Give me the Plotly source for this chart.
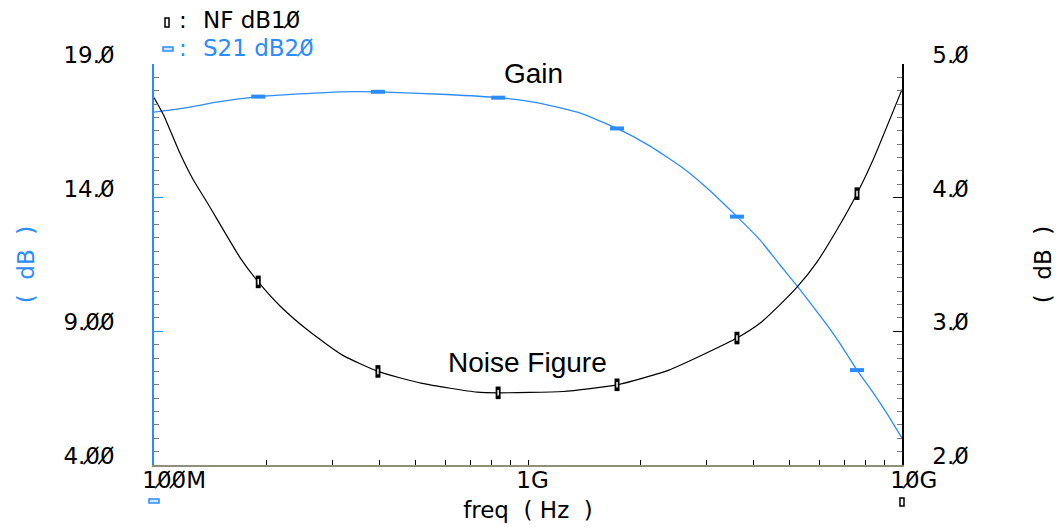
import plotly.graph_objects as go

# ---- data (frequency in Hz, levels in dB) ----
freq_gain = [1.00e8, 1.20e8, 1.47e8, 1.90e8, 3.14e8, 3.97e8, 6.07e8, 8.32e8,
             1.08e9, 1.38e9, 1.73e9, 2.12e9, 2.60e9, 3.01e9, 3.62e9, 4.17e9,
             4.72e9, 5.24e9, 5.67e9, 6.42e9, 6.82e9, 7.58e9, 8.36e9, 9.12e9, 1.00e10]
gain_db = [17.20, 17.35, 17.57, 17.78, 17.96, 17.96, 17.86, 17.74,
           17.53, 17.16, 16.59, 15.93, 15.10, 14.36, 13.29, 12.42,
           11.48, 10.70, 10.08, 9.08, 8.55, 7.55, 6.72, 5.92, 5.00]

freq_nf = [1.00e8, 1.06e8, 1.17e8, 1.27e8, 1.39e8, 1.70e8, 1.90e8, 2.19e8,
           2.60e8, 3.20e8, 3.97e8, 5.21e8, 7.31e8, 8.32e8, 1.24e9, 1.73e9,
           2.38e9, 3.62e9, 4.17e9, 4.72e9, 5.24e9, 5.93e9, 6.70e9, 7.58e9,
           8.36e9, 1.00e10]
nf_db = [4.75, 4.62, 4.34, 4.14, 3.96, 3.55, 3.37, 3.18,
         3.00, 2.82, 2.70, 2.61, 2.545, 2.54, 2.55, 2.60,
         2.71, 2.95, 3.06, 3.20, 3.33, 3.52, 3.76, 4.03,
         4.28, 4.81]

# sample markers placed along each trace
mark_freq = [1.90e8, 3.97e8, 8.32e8, 1.73e9, 3.62e9, 7.58e9]
gain_mark_db = [17.78, 17.96, 17.74, 16.59, 13.29, 7.55]
nf_mark_db = [3.37, 2.70, 2.54, 2.60, 2.95, 4.03]

# axis ticks (zeros drawn slashed)
Z = "0\u0338"
x_major_vals = [1e8, 1e9, 1e10]
x_major_text = [f"1{Z}{Z}M", "1G", f"1{Z}G"]
x_minor_vals = [k * 10 ** e for e in (8, 9) for k in range(2, 10)]
gain_tick_vals = [4, 9, 14, 19]
gain_tick_text = [f"4.{Z}{Z}", f"9.{Z}{Z}", f"14.{Z}", f"19.{Z}"]
nf_tick_vals = [2, 3, 4, 5]
nf_tick_text = [f"2.{Z}", f"3.{Z}", f"4.{Z}", f"5.{Z}"]

BLUE = "#2a8cff"
MINOR = "#7d7590"
TXT = "DejaVu Sans"
FS = 23

W, H = 1058, 527
L, R, T, B = 154, 156, 64, 62
PW, PH = W - L - R, H - T - B


def px(x):
    return (x - L) / PW


def py(y):
    return (H - B - y) / PH


fig = go.Figure()

fig.add_trace(go.Scatter(
    x=freq_gain, y=gain_db, mode="lines", yaxis="y",
    line=dict(color=BLUE, width=1.3, shape="spline", smoothing=0.5),
    hoverinfo="skip", showlegend=False))
fig.add_trace(go.Scatter(
    x=freq_nf, y=nf_db, mode="lines", yaxis="y2",
    line=dict(color="black", width=1.2, shape="spline", smoothing=0.5),
    hoverinfo="skip", showlegend=False))

# gain markers: short horizontal bars
fig.add_trace(go.Scatter(
    x=mark_freq, y=gain_mark_db, mode="markers", yaxis="y",
    marker=dict(symbol="line-ew-open", size=10, color=BLUE,
                line=dict(color=BLUE, width=4)),
    hoverinfo="skip", showlegend=False))
# noise-figure markers: small hollow upright boxes
fig.add_trace(go.Scatter(
    x=mark_freq, y=nf_mark_db, mode="markers", yaxis="y2",
    marker=dict(symbol="line-ns-open", size=9, color="black",
                line=dict(color="black", width=5)),
    hoverinfo="skip", showlegend=False))
fig.add_trace(go.Scatter(
    x=mark_freq, y=nf_mark_db, mode="markers", yaxis="y2",
    marker=dict(symbol="line-ns-open", size=4, color="white",
                line=dict(color="white", width=1.5)),
    hoverinfo="skip", showlegend=False))

fig.update_layout(
    width=W, height=H, autosize=False,
    margin=dict(l=L, r=R, t=T, b=B, pad=0),
    paper_bgcolor="white", plot_bgcolor="white",
    font=dict(family=TXT, size=FS, color="black"),
    showlegend=False,
    xaxis=dict(
        type="log", range=[8, 10], showgrid=False, zeroline=False,
        showline=True, linecolor="#8f8f7c", linewidth=1.5,
        ticks="inside", ticklen=5, tickcolor="black", tickwidth=1,
        tickmode="array", tickvals=x_major_vals, ticktext=x_major_text,
        ticklabelposition="outside right", ticklabelshift=-13,
        ticklabelstandoff=-6,
        tickfont=dict(family=TXT, size=FS, color="black"),
        minor=dict(tickmode="array", tickvals=x_minor_vals, ticks="inside",
                   ticklen=5, tickcolor="black", tickwidth=1, showgrid=False),
        title=dict(text="freq\u00a0 (\u00a0Hz\u00a0 )", standoff=10,
                   font=dict(family=TXT, size=FS, color="black")),
        automargin=False,
    ),
    yaxis=dict(
        range=[4, 19], side="left", showgrid=False, zeroline=False,
        showline=True, linecolor=BLUE, linewidth=1.5,
        ticks="inside", ticklen=9, tickcolor=BLUE, tickwidth=1,
        tickmode="array", tickvals=gain_tick_vals, ticktext=gain_tick_text,
        ticklabelstandoff=33, ticklabelshift=-9,
        tickfont=dict(family=TXT, size=FS, color="black"),
        minor=dict(dtick=0.5, ticks="inside", ticklen=5, tickcolor=MINOR,
                   tickwidth=1, showgrid=False),
        title=dict(text="(\u00a0 dB \u00a0)", standoff=22,
                   font=dict(family=TXT, size=FS, color=BLUE)),
        automargin=False,
    ),
    yaxis2=dict(
        range=[2, 5], side="right", overlaying="y", showgrid=False,
        zeroline=False, showline=True, linecolor="black", linewidth=1.5,
        ticks="inside", ticklen=9, tickcolor="black", tickwidth=1,
        tickmode="array", tickvals=nf_tick_vals, ticktext=nf_tick_text,
        ticklabelstandoff=24, ticklabelshift=-9,
        tickfont=dict(family=TXT, size=FS, color="black"),
        minor=dict(dtick=0.1, ticks="inside", ticklen=5, tickcolor=MINOR,
                   tickwidth=1, showgrid=False),
        title=dict(text="(\u00a0 dB \u00a0)", standoff=67,
                   font=dict(family=TXT, size=FS, color="black")),
        automargin=False,
    ),
)

# trace key at the top left
fig.add_annotation(text=":", x=px(177), y=py(20), xref="paper", yref="paper",
                   xanchor="left", yanchor="middle", showarrow=False,
                   font=dict(family=TXT, size=FS, color="black"))
fig.add_annotation(text=f"NF dB1{Z}", x=px(201), y=py(20), xref="paper", yref="paper",
                   xanchor="left", yanchor="middle", showarrow=False,
                   font=dict(family=TXT, size=FS, color="black"))
fig.add_annotation(text=":", x=px(177), y=py(48), xref="paper", yref="paper",
                   xanchor="left", yanchor="middle", showarrow=False,
                   font=dict(family=TXT, size=FS, color=BLUE))
fig.add_annotation(text=f"S21 dB2{Z}", x=px(201), y=py(48), xref="paper", yref="paper",
                   xanchor="left", yanchor="middle", showarrow=False,
                   font=dict(family=TXT, size=FS, color=BLUE))

# curve labels
fig.add_annotation(text="Gain", x=px(533), y=py(73), xref="paper", yref="paper",
                   xanchor="center", yanchor="middle", showarrow=False,
                   font=dict(family="Liberation Sans, Arial", size=28, color="black"))
fig.add_annotation(text="Noise Figure", x=px(527), y=py(362), xref="paper", yref="paper",
                   xanchor="center", yanchor="middle", showarrow=False,
                   font=dict(family="Liberation Sans, Arial", size=28, color="black"))

# key glyphs and trace tags below the frequency axis
fig.add_shape(type="rect", xref="paper", yref="paper", xsizemode="pixel",
              ysizemode="pixel", xanchor=0, yanchor=1, x0=11, x1=15, y0=37, y1=46,
              line=dict(color="black", width=1.5), fillcolor="white")
fig.add_shape(type="rect", xref="paper", yref="paper", xsizemode="pixel",
              ysizemode="pixel", xanchor=0, yanchor=1, x0=9, x1=19, y0=13, y1=17,
              line=dict(color=BLUE, width=1.5), fillcolor="#cfe4ff")
fig.add_shape(type="rect", xref="paper", yref="paper", xsizemode="pixel",
              ysizemode="pixel", xanchor=0, yanchor=0, x0=-5, x1=5, y0=-34, y1=-38,
              line=dict(color=BLUE, width=1.5), fillcolor="#cfe4ff")
fig.add_shape(type="rect", xref="paper", yref="paper", xsizemode="pixel",
              ysizemode="pixel", xanchor=1, yanchor=0, x0=-2, x1=2, y0=-33, y1=-41,
              line=dict(color="black", width=1.5), fillcolor="white")

fig.write_html("out.html")
